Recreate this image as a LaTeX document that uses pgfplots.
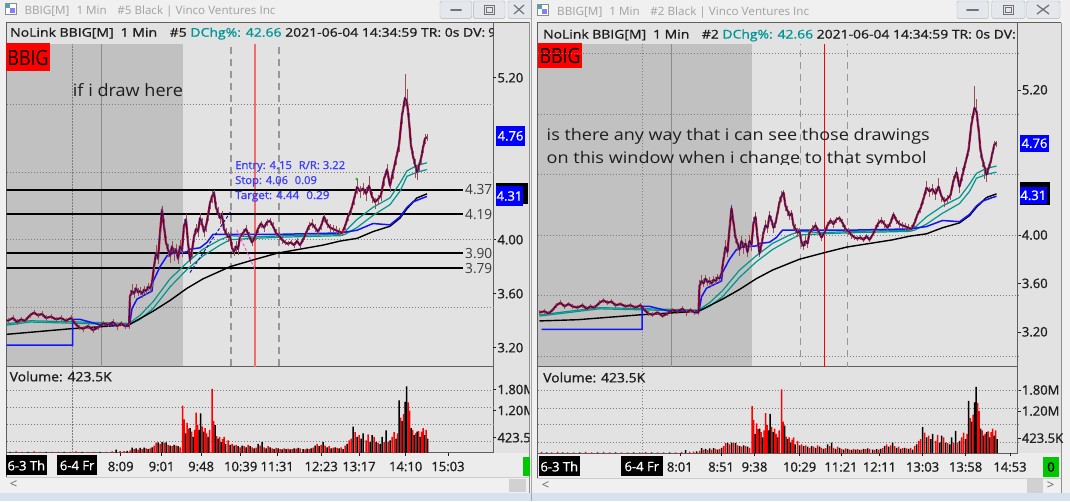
\documentclass[border=0pt]{standalone}
\usepackage{pgfplots}
\pgfplotsset{compat=1.18}
\usepackage{pgfplotstable}
\usepackage{graphicx}
\usepackage{fontspec}
\setmainfont{Open Sans}
\newfontfamily\sbf[FakeBold=1]{Open Sans}
\newcommand\tickfont{\sbf\fontsize{13}{15}\selectfont}
\newcommand\fitw[2]{\resizebox{#1}{\height}{#2}}

\definecolor{pmgray}{RGB}{193,193,193}
\definecolor{bggray}{RGB}{226,226,226}
\definecolor{timebg}{RGB}{236,236,236}
\definecolor{winbg}{RGB}{240,240,240}
\definecolor{lightblue}{RGB}{214,226,240}
\definecolor{framec}{RGB}{95,95,95}
\definecolor{tealma}{RGB}{0,150,140}
\definecolor{bluema}{RGB}{20,20,250}
\definecolor{candred}{RGB}{205,0,0}
\definecolor{candblue}{RGB}{20,20,140}
\definecolor{wickc}{RGB}{150,80,80}
\definecolor{volred}{RGB}{255,0,0}
\definecolor{dchg}{RGB}{0,150,150}
\definecolor{gridc}{RGB}{125,125,125}
\definecolor{dashc}{RGB}{150,150,150}
\definecolor{redline}{RGB}{240,110,110}
\definecolor{titlec}{RGB}{160,160,160}
\definecolor{lvlc}{RGB}{60,60,60}
\definecolor{entryc}{RGB}{60,60,255}
\definecolor{boxblue}{RGB}{0,0,255}
\definecolor{btnfill}{RGB}{228,231,236}
\definecolor{btnedge}{RGB}{175,180,188}
\definecolor{okgreen}{RGB}{0,200,0}
\definecolor{pinkd}{RGB}{240,80,220}
\definecolor{txt}{RGB}{30,30,30}

\pgfplotstableread{
t c ep em
-210 3.36 0.02 0.02
-205 3.37 0.02 0.02
-201 3.35 0.02 0.01
-197 3.38 0.02 0.02
-193 3.42 0.02 0.02
-189 3.44 0.02 0.02
-185 3.41 0.02 0.02
-181 3.43 0.02 0.02
-177 3.41 0.02 0.02
-172 3.40 0.02 0.02
-167 3.42 0.02 0.02
-163 3.39 0.02 0.02
-159 3.41 0.02 0.02
-155 3.40 0.02 0.02
-150 3.44 0.02 0.02
-146 3.46 0.02 0.02
-142 3.44 0.02 0.02
-138 3.45 0.02 0.02
-134 3.42 0.02 0.02
-129 3.43 0.02 0.02
-124 3.41 0.02 0.02
-119 3.42 0.02 0.02
-114 3.40 0.02 0.02
-109 3.42 0.02 0.02
-105 3.38 0.02 0.02
-101 3.35 0.02 0.02
-97 3.34 0.02 0.02
-92 3.36 0.02 0.02
-87 3.33 0.02 0.02
-82 3.35 0.02 0.02
-77 3.38 0.02 0.02
-72 3.37 0.02 0.02
-67 3.39 0.02 0.02
-63 3.36 0.02 0.03
-59 3.38 0.02 0.02
-55 3.36 0.02 0.02
-51 3.36 0.02 0.02
-50 3.58 0.05 0.04
-48 3.62 0.05 0.03
-46 3.60 0.04 0.03
-44 3.64 0.03 0.03
-42 3.61 0.03 0.03
-40 3.62 0.03 0.03
-38 3.60 0.03 0.03
-36 3.63 0.03 0.03
-34 3.62 0.03 0.03
-32 3.65 0.03 0.03
-30 3.64 0.03 0.03
-28 3.68 0.04 0.03
-26 3.80 0.05 0.04
-24 3.90 0.06 0.04
-22 3.86 0.04 0.04
-20 4.05 0.06 0.05
-18 4.22 0.03 0.06
-16 4.10 0.05 0.06
-14 3.98 0.05 0.05
-12 3.93 0.04 0.06
-10 3.88 0.04 0.05
-8 3.95 0.04 0.04
-6 3.90 0.04 0.06
-4 3.93 0.04 0.04
-2 3.86 0.04 0.04
0 3.95 0.05 0.04
2 3.92 0.04 0.05
4 4.10 0.05 0.04
6 4.15 0.04 0.05
8 3.98 0.05 0.05
10 3.85 0.04 0.03
12 3.92 0.04 0.05
14 4.02 0.04 0.04
16 4.08 0.04 0.04
18 4.06 0.04 0.04
20 4.16 0.04 0.05
22 4.12 0.04 0.04
24 4.06 0.04 0.04
26 4.10 0.04 0.04
28 4.18 0.04 0.04
30 4.27 0.04 0.04
32 4.32 0.04 0.05
34 4.35 0.02 0.04
36 4.24 0.04 0.04
38 4.20 0.04 0.04
40 4.16 0.04 0.04
42 4.18 0.03 0.04
44 4.08 0.04 0.04
46 4.05 0.04 0.04
48 4.02 0.04 0.04
50 4.03 0.03 0.04
52 3.94 0.04 0.04
54 3.91 0.04 0.03
56 3.95 0.04 0.04
58 3.93 0.04 0.04
60 4.02 0.03 0.03
63 4.05 0.03 0.03
66 4.08 0.03 0.03
69 4.03 0.03 0.03
72 3.98 0.03 0.03
75 4.02 0.03 0.03
78 4.08 0.03 0.03
81 4.12 0.02 0.03
84 4.09 0.03 0.03
87 4.13 0.02 0.03
90 4.14 0.02 0.03
93 4.10 0.03 0.03
96 4.05 0.03 0.03
99 4.03 0.03 0.03
102 4.00 0.03 0.03
105 3.98 0.02 0.02
108 3.97 0.02 0.02
111 3.98 0.02 0.02
114 3.96 0.02 0.02
117 3.99 0.02 0.02
120 3.96 0.02 0.02
123 4.00 0.03 0.02
126 4.05 0.03 0.03
129 4.10 0.03 0.03
132 4.12 0.03 0.03
135 4.09 0.03 0.03
138 4.06 0.03 0.03
141 4.10 0.03 0.03
144 4.17 0.02 0.04
147 4.12 0.03 0.03
150 4.09 0.03 0.03
153 4.08 0.03 0.03
156 4.07 0.03 0.03
159 4.06 0.03 0.03
162 4.05 0.03 0.02
165 4.10 0.03 0.03
168 4.17 0.03 0.03
171 4.22 0.04 0.04
174 4.30 0.04 0.04
177 4.39 0.06 0.05
180 4.36 0.04 0.05
183 4.38 0.04 0.05
186 4.34 0.05 0.05
189 4.40 0.07 0.04
192 4.32 0.03 0.05
195 4.28 0.03 0.05
198 4.30 0.03 0.04
201 4.33 0.04 0.04
204 4.45 0.04 0.05
207 4.52 0.04 0.05
210 4.40 0.05 0.05
213 4.50 0.05 0.05
216 4.60 0.04 0.05
219 4.70 0.05 0.05
222 4.92 0.06 0.06
225 5.05 0.18 0.06
227 5.02 0.10 0.08
229 4.88 0.06 0.08
231 4.70 0.05 0.06
233 4.62 0.04 0.06
235 4.56 0.04 0.10
237 4.50 0.05 0.06
239 4.55 0.04 0.05
241 4.60 0.04 0.04
243 4.68 0.04 0.04
245 4.75 0.03 0.04
247 4.76 0.02 0.03
}\price

\pgfplotstableread{
t v
-208 3.22
-107.5 3.22
-107.5 3.41
-100 3.41
-90 3.39
-80 3.37
-51 3.37
-50 3.39
-48 3.49
-43 3.56
-33 3.60
-28 3.62
-27 3.69
-20 3.80
-13 3.88
-7 3.90
7 3.91
10 3.93
20 3.94
27 3.98
33 4.04
40 4.04
100 4.04
160 4.05
177 4.07
193 4.12
210 4.11
220 4.17
227 4.24
233 4.28
243 4.31
247 4.32
}\bluema

\pgfplotstableread{
t v
-210 3.29
-172 3.30
-110 3.34
-51 3.37
-27 3.47
-10 3.55
7 3.64
23 3.71
50 3.80
73 3.85
97 3.90
120 3.93
143 3.96
160 3.99
177 4.01
193 4.06
210 4.10
220 4.16
227 4.23
237 4.31
247 4.34
}\blackma

\pgfplotstableread{
t v
-210 3.34
-150 3.40
-100 3.39
-51 3.38
-40 3.44
-27 3.54
-10 3.71
7 3.83
23 3.93
40 4.00
50 4.03
73 4.02
107 4.03
160 4.04
165 4.06
177 4.15
193 4.24
210 4.31
220 4.42
227 4.51
237 4.55
247 4.57
}\tealone

\pgfplotstableread{
t v
-210 3.33
-150 3.39
-100 3.38
-51 3.37
-40 3.41
-27 3.49
-10 3.65
7 3.78
23 3.88
40 3.96
50 4.00
73 4.01
107 4.02
160 4.03
165 4.04
177 4.09
193 4.18
210 4.26
220 4.36
227 4.47
237 4.50
247 4.52
}\tealtwo

\pgfplotstableread{
t v
-208 0.03
-198 0.02
-192 0.03
-182 0.02
-176 0.02
-164 0.03
-158 0.02
-146 0.03
-140 0.02
-128 0.02
-122 0.02
-110 0.02
-104 0.03
-92 0.02
-86 0.02
-74 0.02
-68 0.03
-60 0.04
-56 0.04
-50 0.06
-46 0.10
-42 0.08
-38 0.10
-34 0.12
-30 0.12
-26 0.20
-24 0.28
-20 0.25
-16 0.28
-12 0.22
-8 0.18
-4 0.20
0 0.15
2.6 1.34
4 0.95
7 0.85
8.5 0.68
11.5 0.60
14.5 0.65
16 1.14
17.5 0.80
22 0.75
25 0.70
26.5 0.55
29.5 0.65
32 1.82
33.5 0.90
36.5 0.47
39.5 0.45
42.5 0.38
44 0.45
48 0.35
52 0.25
56 0.22
60 0.15
64 0.18
68 0.22
72 0.15
76 0.14
80 0.20
84 0.15
88 0.18
92 0.12
96 0.13
100 0.10
104 0.12
108 0.11
112 0.10
116 0.11
120 0.12
125 0.09
129 0.10
133 0.14
137 0.25
141 0.22
145 0.20
149 0.18
153 0.14
157 0.13
161 0.15
165 0.20
169 0.35
171 0.40
175 0.58
179 0.50
186 0.35
188 0.52
194 0.45
198 0.28
204 0.30
208 0.30
212 0.45
214 0.58
217.5 0.55
220.5 1.00
223.5 1.10
228 1.43
229.5 1.20
232.5 0.65
235.5 0.55
238.5 0.62
241.5 0.60
243 0.70
246 0.65
}\volR

\pgfplotstableread{
t v
-203 0.02
-187 0.02
-170 0.02
-152 0.02
-134 0.02
-116 0.02
-98 0.02
-80 0.02
-64 0.08
-53 0.05
-48 0.14
-44 0.12
-40 0.13
-36 0.14
-32 0.10
-28 0.15
-22 0.29
-18 0.30
-14 0.29
-10 0.20
-6 0.22
-2 0.18
5.5 0.55
10 0.70
13 0.45
19 0.65
20.5 1.12
23.5 0.60
28 0.45
35 0.78
38 0.40
41 0.30
45.5 0.25
50 0.22
54 0.20
58 0.18
62 0.20
66 0.15
70 0.18
74 0.12
78 0.25
82 0.30
86 0.12
90 0.15
94 0.10
98 0.12
102 0.09
106 0.10
110 0.09
114 0.12
118 0.13
123 0.10
127 0.11
131 0.12
135 0.20
139 0.18
143 0.30
147 0.15
151 0.12
155 0.15
159 0.12
163 0.10
167 0.25
173 0.74
177 0.45
181 0.40
183 0.55
190 0.30
192 0.50
196 0.30
200 0.25
202 0.45
206 0.63
210 0.35
216 0.40
219 1.49
222 0.90
225 1.45
226.5 1.89
231 0.70
234 0.50
237 0.60
240 0.45
244.5 0.50
247.5 0.40
}\volB

\pgfplotsset{
  pricebase/.style={
    scale only axis, anchor=south west,
    axis line style={draw=none},
    xtick=\empty,
    ytick pos=right, yticklabel pos=right,
    tick align=outside, major tick length=3pt,
    tick style={draw=txt, line width=0.6pt},
    ytick={3.2,3.6,4.0,5.2},
    yticklabels={3.20,3.60,4.00,5.20},
    yticklabel style={font=\tickfont, text=txt, inner sep=0pt, xshift=1pt},
    grid style={gridc, line width=0.5pt, dash pattern=on 1.5pt off 1.5pt},
    extra y tick style={grid=major, major tick length=0pt},
  },
  volbase/.style={
    scale only axis, anchor=south west, height=86pt, ymin=0, ymax=2.457,
    axis line style={draw=none},
    ytick pos=right, yticklabel pos=right, xtick pos=bottom,
    tick align=outside, major tick length=3pt,
    tick style={draw=txt, line width=0.6pt},
    ytick={0.4235,1.2,1.8}, yticklabels={423.5K,1.20M,1.80M},
    yticklabel style={font=\tickfont, text=txt, inner sep=0pt, xshift=1pt},
    xticklabel style={font=\tickfont, text=txt, inner sep=0pt, yshift=-6pt},
    extra y ticks={0.314,0.814,1.286,1.786}, extra y tick labels={,,,},
    extra y tick style={grid=major, major tick length=0pt},
    grid style={gridc, line width=0.5pt, dash pattern=on 1.5pt off 1.5pt},
  },
  candles/.style={candred, line width=2.2pt, line join=round,
    error bars/.cd, y dir=both, y explicit,
    error bar style={wickc, line width=0.7pt}, error mark=none},
}

\newcommand\priceplots{%
  \addplot[tealma, line width=1.2pt] table[x=t,y=v]{\tealone};
  \addplot[tealma, line width=1.2pt] table[x=t,y=v]{\tealtwo};
  \addplot[black, line width=1.4pt] table[x=t,y=v]{\blackma};
  \addplot[bluema, line width=1.5pt] table[x=t,y=v]{\bluema};
  \addplot[candles] table[x=t,y=c,y error plus=ep,y error minus=em]{\price};
  \addplot[candblue, line width=0.8pt] table[x=t,y=c]{\price};
}
\newcommand\volplots{%
  \addplot[ybar, bar width=1.5, bar shift=0pt, fill=volred, draw=none] table[x=t,y=v]{\volR};
  \addplot[ybar, bar width=1.5, bar shift=0pt, fill=black, draw=none] table[x=t,y=v]{\volB};
}
\newcommand\lvl[1]{%
  \draw[black, line width=1.6pt] (axis cs:-180,#1) -- (axis cs:283.3,#1);
  \node[anchor=west, inner sep=0pt, text=lvlc] at (axis cs:285,#1) {\fitw{27pt}{\fontsize{14}{16}\selectfont #1}};
}

\begin{document}
\begin{tikzpicture}
% ================= LEFT WINDOW CHROME =================
\begin{scope}[x=1pt,y=-1pt]
\fill[winbg] (0,0) rectangle (1070,501);
\fill[lightblue] (0,493.3) rectangle (533,501);
\fill[bggray] (6,22) rectangle (529.3,452.5);
\fill[pmgray] (6.5,44) rectangle (182.6,366);
\fill[timebg] (6,452.5) rectangle (529.3,477);
\fill[winbg] (6,477) rectangle (529.3,493.3);
\draw[black!20] (6,477) -- (529.3,477);
\draw[framec, line width=0.8pt] (6,22) -- (6,477);
\draw[framec, line width=0.8pt] (6,22) -- (529.3,22);
\draw[framec!70, line width=0.6pt] (529.3,22) -- (529.3,493);
\draw[framec, line width=0.8pt] (493.3,22) -- (493.3,452.5);
\draw[framec, line width=0.8pt] (6,366) -- (493.3,366);
\draw[framec, line width=0.8pt] (6,452.5) -- (493.3,452.5);
% title bar
\draw[black!45, fill=white] (5,3) rectangle (16,14);
\fill[teal!70] (6,4) rectangle (10,8);
\fill[blue!50] (10,8) rectangle (15,13);
\node[anchor=base west, inner sep=0pt, text=titlec] at (24.3,14)
  {\fitw{251pt}{\fontsize{11.5}{13}\selectfont BBIG[M]\hspace{0.6em}1 Min\hspace{0.9em}\#5 Black | Vinco Ventures Inc}};
\draw[btnedge, fill=btnfill, rounded corners=1.5pt] (440,1) rectangle (471.7,18.3);
\draw[btnedge, fill=btnfill, rounded corners=1.5pt] (473.3,1) rectangle (505,18.3);
\draw[btnedge, fill=btnfill, rounded corners=1.5pt] (508,1) rectangle (540,18.3);
\draw[black!55, line width=2pt, line cap=round] (451,10) -- (461,10);
\draw[black!55, line width=1pt] (484,5) rectangle (494,14);
\draw[black!55, line width=0.6pt] (486,7) rectangle (492,12);
\draw[black!55, line width=1.2pt] (514,5) -- (524,14) (514,14) -- (524,5);
% header
\begin{scope}
\clip (6,22) rectangle (493.3,44);
\node[anchor=base west, inner sep=0pt, text=txt] at (10,36.7)
  {\sbf\fontsize{12}{14}\selectfont\fitw{475pt}{NoLink BBIG[M]\hspace{0.5em}1 Min\hspace{0.9em}\#5 \textcolor{dchg}{DChg\%: 42.66} 2021-06-04 14:34:59 TR: 0s DV:}\ 9.87M};
\end{scope}
% BBIG box
\fill[red] (6.1,43.3) rectangle (50,70.7);
\node[inner sep=0pt] at (28,57.5) {\fitw{41pt}{\fontsize{21}{24}\selectfont BBIG}};
% time row boxes
\fill[black] (6,455) rectangle (46.7,475);
\node[text=white, inner sep=0pt] at (26.3,465.5) {\tickfont 6-3 Th};
\fill[black] (56.8,455) rectangle (97.4,475);
\node[text=white, inner sep=0pt] at (77.1,465.5) {\tickfont 6-4 Fr};
% scroll row
\node[text=black!60, inner sep=0pt] at (13.5,484.5) {\fontsize{13}{15}\selectfont <};
\fill[black!18] (508.8,478.5) rectangle (525.7,492.3);
\fill[okgreen] (523,457) rectangle (530,475.5);
\end{scope}

% ================= LEFT AXES =================
\begin{scope}
\clip (0pt,0pt) rectangle (529.3pt,-501pt);
\begin{axis}[pricebase, at={(6.5pt,-366pt)}, width=486.8pt, height=322pt,
  xmin=-173.5, xmax=313.3, ymin=3.0644, ymax=5.450,
  extra y ticks={3.5,4,4.5,5}, extra y tick labels={,,,}]
  \draw[gridc, line width=0.5pt, dash pattern=on 1.5pt off 1.5pt] (axis cs:-107.5,2) -- (axis cs:-107.5,6);
  \draw[black!45, line width=0.8pt] (axis cs:-78.6,2) -- (axis cs:-78.6,6);
  \draw[dashc, line width=1.2pt, dash pattern=on 7pt off 5pt] (axis cs:51,2) -- (axis cs:51,6);
  \draw[dashc, line width=1.2pt, dash pattern=on 7pt off 5pt] (axis cs:99,2) -- (axis cs:99,6);
  \draw[redline, line width=1.4pt] (axis cs:74.8,2) -- (axis cs:74.8,6);
  \lvl{4.37}
  \lvl{4.19}
  \lvl{3.90}
  \lvl{3.79}
  \priceplots
  \addplot[candblue, line width=1pt, dash pattern=on 3pt off 2pt] coordinates {(10,3.757) (51.7,4.219)};
  \addplot[pinkd, line width=1pt, dash pattern=on 3pt off 2pt] coordinates {(56.7,4.073) (75,3.78)};
  \addplot[only marks, mark=*, mark size=1.1pt, green!80!black] coordinates {(176.7,4.45)};
  \addplot[only marks, mark=*, mark size=1.3pt, red] coordinates {(163.3,4.06)};
\end{axis}
\begin{axis}[volbase, at={(6.5pt,-452.5pt)}, width=486.8pt,
  xmin=-173.5, xmax=313.3,
  xtick={-59.3,-18.4,21.1,60.7,97.2,141.2,179,225.7,268},
  xticklabels={8:09,9:01,9:48,10:39,11:31,12:23,13:17,14:10,15:03}]
  \draw[gridc, line width=0.5pt, dash pattern=on 1.5pt off 1.5pt] (axis cs:-107.5,0) -- (axis cs:-107.5,3);
  \volplots
\end{axis}
\end{scope}

% ================= LEFT OVERLAYS =================
\begin{scope}[x=1pt,y=-1pt]
\clip (0,0) rectangle (529.3,501);
\node[anchor=base west, inner sep=0pt, text=txt] at (72.7,96.7) {\fitw{110pt}{\fontsize{17}{20}\selectfont if i draw here}};
\node[anchor=base west, inner sep=0pt, text=entryc] at (235,169) {\fitw{110pt}{\sbf\fontsize{11}{13}\selectfont Entry: 4.15\hspace{0.6em}R/R: 3.22}};
\node[anchor=base west, inner sep=0pt, text=entryc] at (235,184) {\fitw{81.7pt}{\sbf\fontsize{11}{13}\selectfont Stop: 4.06\hspace{0.6em}0.09}};
\node[anchor=base west, inner sep=0pt, text=entryc] at (235,199) {\fitw{94.3pt}{\sbf\fontsize{11}{13}\selectfont Target: 4.44\hspace{0.6em}0.29}};
\fill[boxblue] (496,126) rectangle (525,145.7);
\node[text=white, inner sep=0pt] at (510.5,135.9) {\tickfont 4.76};
\draw[black, fill=black] (496,182.7) rectangle (527,203.3);
\fill[boxblue] (496,186) rectangle (522.7,206);
\node[text=white, inner sep=0pt] at (509.5,196) {\tickfont 4.31};
\node[anchor=west, inner sep=0pt, text=txt] at (9.5,376.5) {\fitw{102pt}{\tickfont Volume: 423.5K}};
\end{scope}

% ================= RIGHT WINDOW CHROME =================
\begin{scope}[x=1pt,y=-1pt]
\fill[winbg] (531,0) rectangle (1070,501);
\draw[black!35, line width=1pt] (531.5,0) -- (531.5,501);
\fill[lightblue] (532,493.3) rectangle (1070,501);
\fill[bggray] (537,22.7) rectangle (1061,453);
\fill[pmgray] (537.6,44) rectangle (752.1,366.7);
\fill[timebg] (537,453) rectangle (1061,478);
\fill[winbg] (537,478) rectangle (1061,493.3);
\draw[black!20] (537,478) -- (1061,478);
\draw[framec, line width=0.8pt] (537,22.7) -- (537,478);
\draw[framec, line width=0.8pt] (537,22.7) -- (1061,22.7);
\draw[framec!70, line width=0.6pt] (1061,22.7) -- (1061,493.3);
\draw[framec, line width=0.8pt] (1017.7,22.7) -- (1017.7,453);
\draw[framec, line width=0.8pt] (537,366.7) -- (1017.7,366.7);
\draw[framec, line width=0.8pt] (537,453) -- (1017.7,453);
% title bar
\draw[black!45, fill=white] (537,4) rectangle (548,15);
\fill[teal!70] (538,5) rectangle (542,9);
\fill[blue!50] (542,9) rectangle (547,14);
\node[anchor=base west, inner sep=0pt, text=titlec] at (557,15)
  {\fitw{252pt}{\fontsize{11.5}{13}\selectfont BBIG[M]\hspace{0.6em}1 Min\hspace{0.9em}\#2 Black | Vinco Ventures Inc}};
\draw[btnedge, fill=btnfill, rounded corners=1.5pt] (957,1) rectangle (988.5,18.3);
\draw[btnedge, fill=btnfill, rounded corners=1.5pt] (991.7,1) rectangle (1025,18.3);
\draw[btnedge, fill=btnfill, rounded corners=1.5pt] (1026.7,1) rectangle (1060,18.3);
\draw[black!55, line width=2pt, line cap=round] (967,10) -- (978,10);
\draw[black!55, line width=1pt] (1003,5) rectangle (1013,14);
\draw[black!55, line width=0.6pt] (1005,7) rectangle (1011,12);
\draw[black!55, line width=1.3pt] (1037,5) -- (1049,14) (1037,14) -- (1049,5);
% header
\begin{scope}
\clip (537,22.7) rectangle (1017.7,44);
\node[anchor=base west, inner sep=0pt, text=txt] at (543,38.5)
  {\sbf\fontsize{12}{14}\selectfont\fitw{472.5pt}{NoLink BBIG[M]\hspace{0.5em}1 Min\hspace{0.9em}\#2 \textcolor{dchg}{DChg\%: 42.66} 2021-06-04 14:34:59 TR: 0s DV:}\ 9.87M};
\end{scope}
% BBIG box
\fill[red] (537.6,43.3) rectangle (582.3,68.3);
\node[inner sep=0pt] at (560,56) {\fitw{41pt}{\fontsize{21}{24}\selectfont BBIG}};
% time row boxes
\fill[black] (538.6,456) rectangle (580,476);
\node[text=white, inner sep=0pt] at (559.3,466.5) {\tickfont 6-3 Th};
\fill[black] (621,456) rectangle (662.6,476);
\node[text=white, inner sep=0pt] at (641.8,466.5) {\tickfont 6-4 Fr};
% scroll row
\node[text=black!60, inner sep=0pt] at (545.5,486) {\fontsize{13}{15}\selectfont <};
\node[text=black!60, inner sep=0pt] at (1050.7,486) {\fontsize{13}{15}\selectfont >};
\fill[black!18] (1026.7,479.3) rectangle (1042.7,493);
\fill[okgreen] (1042.7,457.3) rectangle (1059.3,476.7);
\node[inner sep=0pt] at (1051,467) {\tickfont 0};
\end{scope}

% ================= RIGHT AXES =================
\begin{scope}
\clip (533pt,0pt) rectangle (1070pt,-501pt);
\begin{axis}[pricebase, at={(537.6pt,-366.7pt)}, width=480.1pt, height=322.7pt,
  xmin=-211.9, xmax=268.2, ymin=2.9116, ymax=5.5785,
  extra y ticks={3,3.5,4,4.5,5,5.5}, extra y tick labels={,,,,,}]
  \draw[gridc, line width=0.5pt, dash pattern=on 1.5pt off 1.5pt] (axis cs:-107,2) -- (axis cs:-107,6);
  \draw[black!45, line width=0.8pt] (axis cs:-78.3,2) -- (axis cs:-78.3,6);
  \draw[dashc, line width=1.2pt, dash pattern=on 7pt off 5pt] (axis cs:50.8,2) -- (axis cs:50.8,6);
  \draw[dashc, line width=1.2pt, dash pattern=on 7pt off 5pt] (axis cs:98,2) -- (axis cs:98,6);
  \draw[red, line width=0.8pt] (axis cs:74.9,2) -- (axis cs:74.9,6);
  \priceplots
\end{axis}
\begin{axis}[volbase, at={(537.6pt,-453pt)}, width=480.1pt,
  xmin=-211.9, xmax=268.2,
  xtick={-69.7,-28.4,5,50.1,91.5,130,173.1,216.1,260.5},
  xticklabels={8:01,8:51,9:38,10:29,11:21,12:11,13:03,13:58,14:53}]
  \draw[gridc, line width=0.5pt, dash pattern=on 1.5pt off 1.5pt] (axis cs:-107,0) -- (axis cs:-107,3);
  \volplots
\end{axis}
\end{scope}

% ================= RIGHT OVERLAYS =================
\begin{scope}[x=1pt,y=-1pt]
\begin{scope}
\clip (537.6,44) rectangle (1017.7,164.3);
\node[anchor=base west, inner sep=0pt, text=txt] at (546.5,140) {\fitw{383pt}{\fontsize{16}{18}\selectfont is there any way that i can see those drawings}};
\node[anchor=base west, inner sep=0pt, text=txt] at (546.5,163.3) {\fitw{380pt}{\fontsize{16}{18}\selectfont on this window when i change to that symbol}};
\end{scope}
\fill[boxblue] (1020,135) rectangle (1049,151.7);
\node[text=white, inner sep=0pt] at (1034.5,143.3) {\tickfont 4.76};
\draw[black, fill=black] (1020,181.7) rectangle (1049,204);
\fill[boxblue] (1020,186.7) rectangle (1046.7,204);
\node[text=white, inner sep=0pt] at (1033.3,195.3) {\tickfont 4.31};
\node[anchor=west, inner sep=0pt, text=txt] at (543,377.5) {\fitw{102pt}{\tickfont Volume: 423.5K}};
\end{scope}

\pgfresetboundingbox
\path (0pt,0pt) rectangle (1070pt,-501pt);
\end{tikzpicture}
\end{document}
